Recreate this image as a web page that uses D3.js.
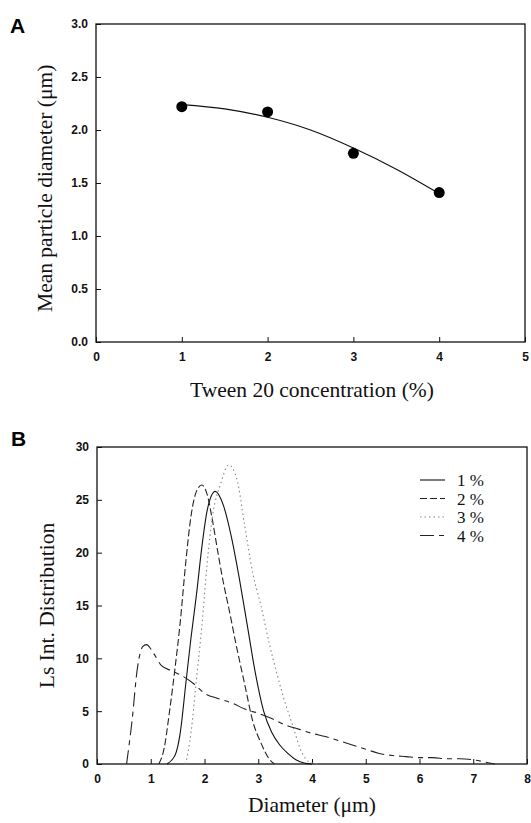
<!DOCTYPE html>
<html lang="en">
<head>
<meta charset="UTF-8">
<title>Tween 20 particle size</title>
<script src="https://d3js.org/d3.v7.min.js"></script>
<style>
    body { margin: 0; background: #fff; }
    svg { display: block; }
    .tick text { font-family: "Liberation Sans", Arial, sans-serif; font-weight: bold; font-size: 12px; fill: #111; }
    .tick line { stroke: #111; stroke-width: 1; }
    .title { font-family: "Liberation Serif", "Times New Roman", serif; font-size: 21.5px; fill: #111; }
    .panel { font-family: "Liberation Sans", Arial, sans-serif; font-weight: bold; font-size: 21px; fill: #000; }
    .legend { font-family: "Liberation Serif", serif; font-size: 17px; fill: #111; }
</style>
</head>
<body>
<svg width="531" height="823"></svg>
<script>
// Panel A: mean diameter vs Tween 20 concentration
const tweenConc = [1, 2, 3, 4];
const meanDiam = [2.22, 2.17, 1.78, 1.41];
// fitted trend line as drawn in the figure
const fitX = [1, 1.5, 2, 2.5, 3, 3.5, 4];
const fitY = [2.24, 2.20, 2.12, 2.00, 1.83, 1.63, 1.40];
const aXTicks = [0, 1, 2, 3, 4, 5];
const aYTicks = [0, 0.5, 1.0, 1.5, 2.0, 2.5, 3.0];

// Panel B: light scattering intensity distributions
const seriesNames = ["1 %", "2 %", "3 %", "4 %"];
const dist1 = [[1.3,0],[1.45,0.8],[1.55,3],[1.65,7.5],[1.75,12],[1.85,16],[1.95,20.5],[2.05,24],[2.2,25.8],[2.35,24.5],[2.5,21.5],[2.65,17.5],[2.8,13],[2.95,8.5],[3.1,5],[3.25,3],[3.4,1.8],[3.55,1],[3.7,0.4],[3.85,0.1],[4.0,0]];
const dist2 = [[1.15,0],[1.25,1.5],[1.35,5],[1.45,9],[1.55,13.5],[1.65,19],[1.75,23.5],[1.85,25.8],[1.95,26.4],[2.05,25.5],[2.15,23],[2.25,20],[2.35,17.2],[2.45,14.8],[2.6,11],[2.75,7.5],[2.9,4],[3.05,2],[3.2,0.5],[3.3,0]];
const dist3 = [[1.65,0],[1.75,3],[1.85,8],[1.95,13],[2.05,19],[2.15,23.5],[2.3,26.5],[2.45,28.3],[2.6,27],[2.75,22.5],[2.9,18],[3.05,15],[3.2,11.5],[3.35,8.5],[3.5,5.8],[3.65,3.5],[3.8,1.2],[3.95,0.2],[4.1,0]];
const dist4 = [[0.55,0],[0.65,4],[0.75,9],[0.85,11.1],[0.92,11.3],[1.05,10.5],[1.2,9.3],[1.4,8.8],[1.6,8.3],[1.8,7.6],[2.0,6.7],[2.25,6.2],[2.5,5.8],[2.75,5.2],[3.0,4.8],[3.25,4.3],[3.5,3.7],[3.75,3.3],[4.0,2.9],[4.25,2.6],[4.5,2.2],[4.75,1.8],[5.0,1.4],[5.25,1.0],[5.5,0.8],[5.75,0.7],[6.0,0.6],[6.25,0.6],[6.5,0.5],[6.75,0.5],[7.0,0.4],[7.2,0.2],[7.4,0]];
const bXTicks = [0, 1, 2, 3, 4, 5, 6, 7, 8];
const bYTicks = [0, 5, 10, 15, 20, 25, 30];

const svg = d3.select("svg");

// ---------- panel A ----------
const xA = d3.scaleLinear().domain([0, 5]).range([96, 525]);
const yA = d3.scaleLinear().domain([0, 3]).range([342, 24]);

const gA = svg.append("g");

gA.append("g")
    .attr("transform", `translate(0,${yA(0)})`)
    .call(d3.axisBottom(xA).tickValues(aXTicks).tickSize(-5).tickSizeOuter(0).tickPadding(10).tickFormat(d3.format("d")))
    .call(g => g.select(".domain").remove());

gA.append("g")
    .attr("transform", `translate(${xA(0)},0)`)
    .call(d3.axisLeft(yA).tickValues(aYTicks).tickSize(-5).tickSizeOuter(0).tickPadding(8).tickFormat(d3.format(".1f")))
    .call(g => g.select(".domain").remove());

gA.append("rect")
    .attr("x", xA(0)).attr("y", yA(3))
    .attr("width", xA(5) - xA(0)).attr("height", yA(0) - yA(3))
    .attr("fill", "none").attr("stroke", "#111").attr("stroke-width", 1.3);

gA.append("path")
    .datum(fitX.map((d, i) => [d, fitY[i]]))
    .attr("fill", "none").attr("stroke", "#111").attr("stroke-width", 1.2)
    .attr("d", d3.line().x(d => xA(d[0])).y(d => yA(d[1])).curve(d3.curveCatmullRom));

gA.selectAll(".dot")
    .data(tweenConc.map((d, i) => [d, meanDiam[i]]))
    .enter().append("circle")
    .attr("class", "dot")
    .attr("cx", d => xA(d[0])).attr("cy", d => yA(d[1]))
    .attr("r", 5.5).attr("fill", "#000");

gA.append("text").attr("class", "title")
    .attr("transform", `translate(52,${yA(1.45)}) rotate(-90)`)
    .attr("text-anchor", "middle")
    .text("Mean particle diameter (\u03bcm)");

gA.append("text").attr("class", "title")
    .attr("x", 312).attr("y", 397)
    .attr("text-anchor", "middle")
    .text("Tween 20 concentration (%)");

svg.append("text").attr("class", "panel").attr("x", 10).attr("y", 33).text("A");

// ---------- panel B ----------
const xB = d3.scaleLinear().domain([0, 8]).range([97, 527]);
const yB = d3.scaleLinear().domain([0, 30]).range([764, 447]);

const gB = svg.append("g");

gB.append("g")
    .attr("transform", `translate(0,${yB(0)})`)
    .call(d3.axisBottom(xB).tickValues(bXTicks).tickSize(-5).tickSizeOuter(0).tickPadding(10).tickFormat(d3.format("d")))
    .call(g => g.select(".domain").remove());

gB.append("g")
    .attr("transform", `translate(${xB(0)},0)`)
    .call(d3.axisLeft(yB).tickValues(bYTicks).tickSize(-5).tickSizeOuter(0).tickPadding(8).tickFormat(d3.format("d")))
    .call(g => g.select(".domain").remove());

gB.append("rect")
    .attr("x", xB(0)).attr("y", yB(30))
    .attr("width", xB(8) - xB(0)).attr("height", yB(0) - yB(30))
    .attr("fill", "none").attr("stroke", "#111").attr("stroke-width", 1.3);

const dists = [dist1, dist2, dist3, dist4];
const dashes = [null, "7,3", "1.5,3", "14,5,5,5"];
const strokes = ["#111", "#222", "#888", "#222"];

const lineB = d3.line().x(d => xB(d[0])).y(d => yB(d[1])).curve(d3.curveMonotoneX);

dists.forEach((data, i) => {
    gB.append("path")
        .datum(data)
        .attr("fill", "none")
        .attr("stroke", strokes[i])
        .attr("stroke-width", 1.1)
        .attr("stroke-dasharray", dashes[i])
        .attr("d", lineB);
});

// legend
const leg = gB.append("g");
seriesNames.forEach((name, i) => {
    const yy = 480 + i * 18.5;
    leg.append("line")
        .attr("x1", 420).attr("x2", 445).attr("y1", yy).attr("y2", yy)
        .attr("stroke", strokes[i]).attr("stroke-width", 1.1)
        .attr("stroke-dasharray", dashes[i]);
    leg.append("text").attr("class", "legend")
        .attr("x", 457).attr("y", yy + 6)
        .text(name);
});

gB.append("text").attr("class", "title")
    .attr("transform", `translate(54,${yB(15)}) rotate(-90)`)
    .attr("text-anchor", "middle")
    .text("Ls Int. Distribution");

gB.append("text").attr("class", "title")
    .attr("x", 312).attr("y", 812)
    .attr("text-anchor", "middle")
    .text("Diameter (\u03bcm)");

svg.append("text").attr("class", "panel").attr("x", 11).attr("y", 446).text("B");
</script>
</body>
</html>
